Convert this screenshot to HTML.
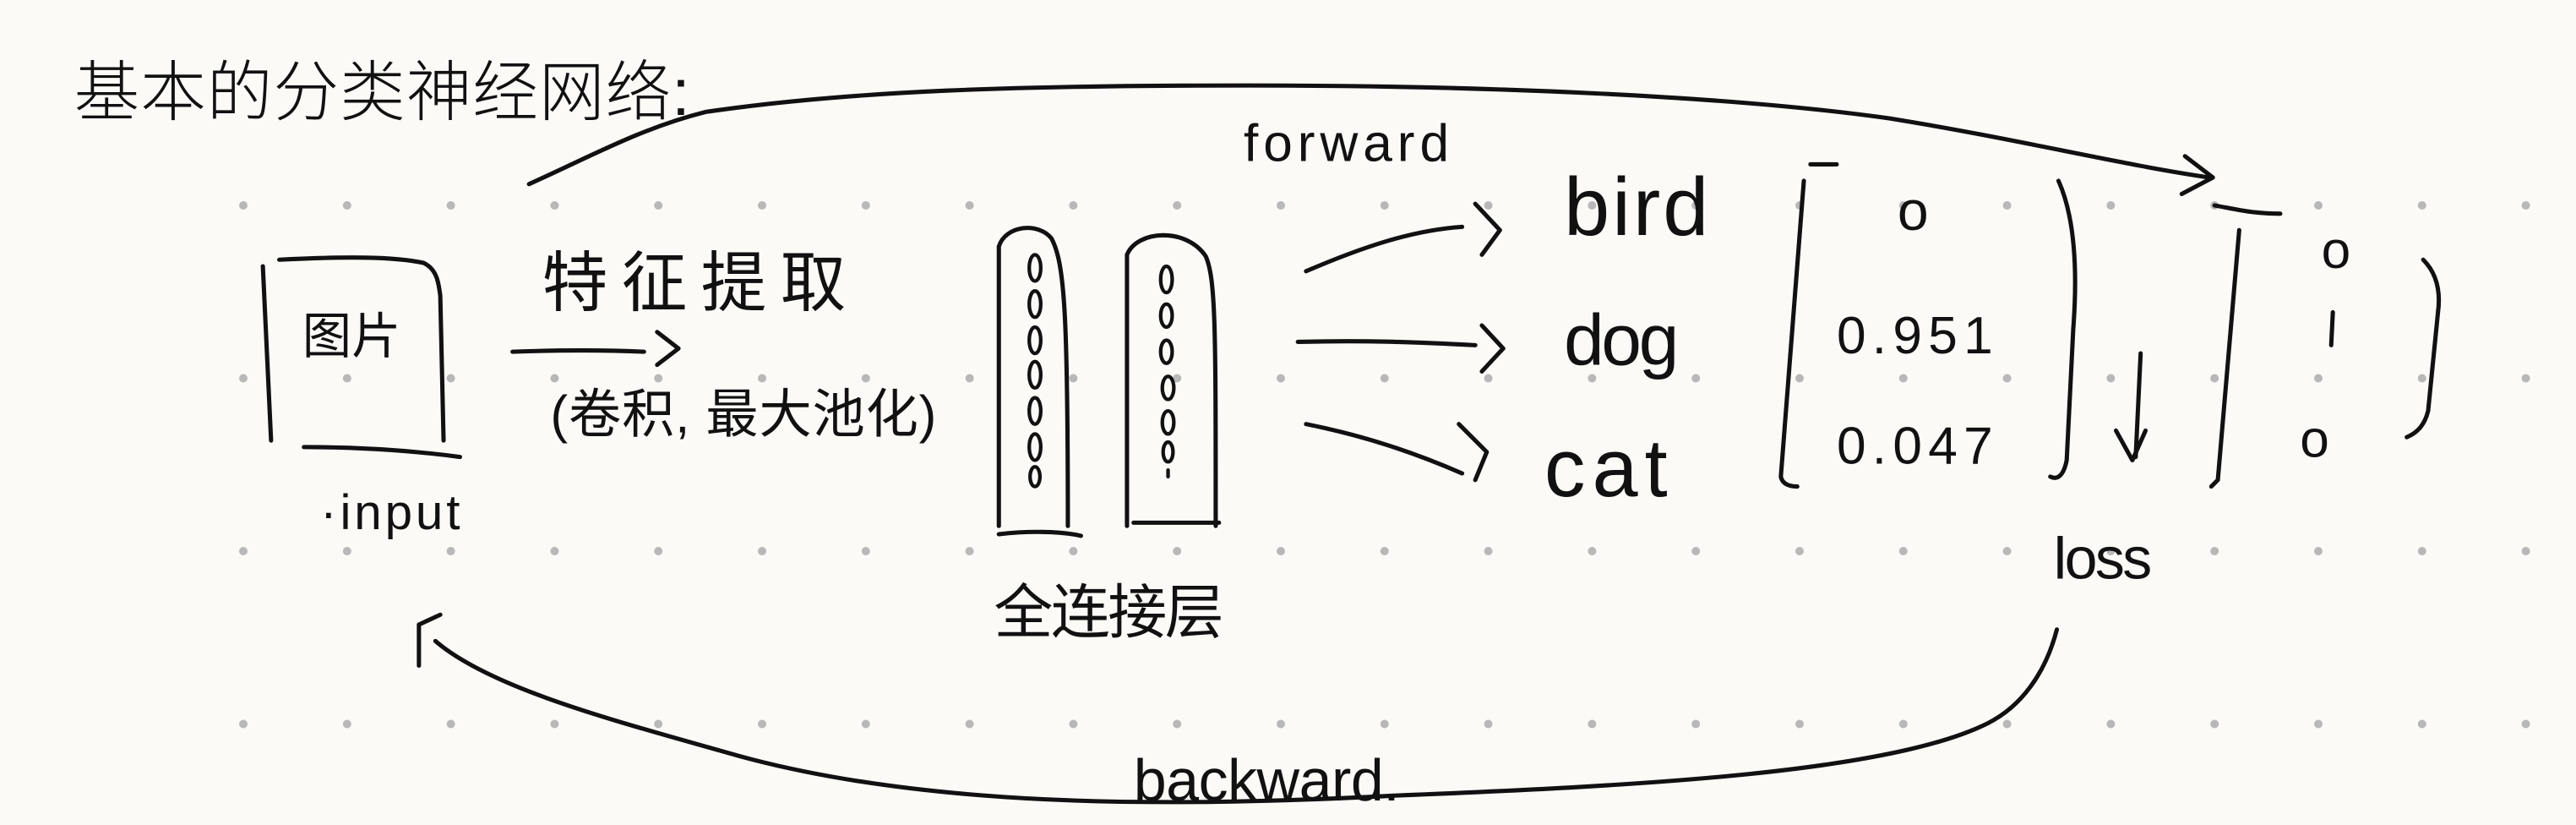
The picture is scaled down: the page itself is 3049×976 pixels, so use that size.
<!DOCTYPE html>
<html><head><meta charset="utf-8"><style>
html,body{margin:0;padding:0;background:#fcfaf7;}
svg{display:block;}
text{font-family:"Liberation Sans","Noto Sans CJK SC",sans-serif;fill:#111;}
</style></head><body>
<svg width="3049" height="976" viewBox="0 0 3049 976" xmlns="http://www.w3.org/2000/svg">
<rect width="3049" height="976" fill="#fcfaf7"/>
<g fill="#b8b8b8" id="dg"></g>
<g transform="scale(1.9445)" fill="none" stroke="#111" stroke-width="2.6" stroke-linecap="round" stroke-linejoin="round">
<text x="45" y="70" font-size="40" stroke="none" textLength="375" font-weight="300">基本的分类神经网络:</text>
<path d="M322,112 C360,95 390,78 430,68 C520,55 620,52 760,52 C900,52 1050,58 1150,72 C1230,85 1290,100 1345,108"/>
<path d="M1330,95 L1347,108 L1328,118"/>
<text x="757" y="98" font-size="32" stroke="none" textLength="125">forward</text>
<path d="M160,162 L165,268"/>
<path d="M170,158 C210,156 240,156 258,160 C266,164 267,172 268,180 L270,268"/>
<path d="M185,272 C220,272 250,274 280,278"/>
<text x="184" y="215" font-size="30" stroke="none">图片</text>
<text x="195" y="322" font-size="30" stroke="none" textLength="85">·input</text>
<path d="M312,214 C340,213 370,213 392,214"/>
<path d="M400,202 L413,212 L400,222"/>
<text x="330" y="186" font-size="40" stroke="none" textLength="185">特征提取</text>
<text x="335" y="263" font-size="32" stroke="none" textLength="235">(卷积, 最大池化)</text>
<path d="M608,320 L608,150 C612,137 632,135 640,145 C648,160 650,190 650,320"/>
<path d="M608,325 C625,323 645,323 658,326"/>
<path d="M686,320 L686,155 C692,140 722,138 734,156 C740,170 740,200 740,320"/>
<path d="M690,318 L742,318"/>
<g stroke-width="2.2">
<ellipse cx="630" cy="163" rx="3.5" ry="8"/><ellipse cx="630" cy="185" rx="3.5" ry="8"/>
<ellipse cx="630" cy="207" rx="3.5" ry="8"/><ellipse cx="630" cy="228" rx="3.5" ry="8"/>
<ellipse cx="630" cy="250" rx="3.5" ry="8"/><ellipse cx="630" cy="272" rx="3.5" ry="8"/>
<ellipse cx="630" cy="290" rx="3" ry="6"/>
<ellipse cx="710" cy="170" rx="3.5" ry="8"/><ellipse cx="710" cy="192" rx="3.5" ry="7"/>
<ellipse cx="710" cy="214" rx="3.5" ry="7"/><ellipse cx="711" cy="236" rx="3.5" ry="7"/>
<ellipse cx="711" cy="257" rx="3.5" ry="7"/><ellipse cx="711" cy="275" rx="3" ry="6"/>
<path d="M711,286 L711,290"/>
</g>
<text x="605" y="385" font-size="36" stroke="none" textLength="140">全连接层</text>
<path d="M795,165 C830,150 860,140 890,138"/>
<path d="M898,124 L913,140 L902,155"/>
<path d="M790,208 C830,207 860,208 898,210"/>
<path d="M902,198 L915,212 L902,226"/>
<path d="M795,258 C830,265 860,275 890,288"/>
<path d="M888,258 L905,275 L898,292"/>
<text x="952" y="143" font-size="50" stroke="none" textLength="88">bird</text>
<text x="952" y="222" font-size="44" stroke="none" textLength="70">dog</text>
<text x="940" y="302" font-size="50" stroke="none" textLength="75">cat</text>
<path d="M1098,110 L1084,290 C1085,295 1090,296 1094,296"/>
<path d="M1102,100 L1118,100"/>
<path d="M1253,110 C1262,130 1265,160 1262,200 L1258,280 C1256,290 1252,292 1248,290"/>
<text x="1155" y="140" font-size="34" stroke="none">o</text>
<text x="1118" y="215" font-size="32" stroke="none" textLength="95">0.951</text>
<text x="1118" y="282" font-size="32" stroke="none" textLength="95">0.047</text>
<path d="M1303,215 L1300,278"/>
<path d="M1288,262 L1298,280 L1306,262"/>
<text x="1250" y="352" font-size="36" stroke="none" textLength="60">loss</text>
<path d="M1348,125 C1360,127 1370,130 1388,130"/>
<path d="M1363,140 L1350,292 L1346,296"/>
<path d="M1475,158 C1482,165 1486,175 1484,190 L1478,250 C1476,258 1472,263 1465,266"/>
<text x="1413" y="163" font-size="32" stroke="none">o</text>
<path d="M1420,190 L1419,210"/>
<text x="1400" y="278" font-size="32" stroke="none">o</text>
<path d="M1252,383 C1245,410 1230,430 1210,440 C1150,470 1000,478 850,484 C700,492 560,490 450,460 C380,440 300,420 265,390"/>
<path d="M255,405 L255,380 L268,374"/>
<text x="690" y="487" font-size="36" stroke="none" textLength="162">backward.</text>
</g>
</svg>
<script>
var g=document.getElementById('dg');var s='';
for(var j=0;j<4;j++){for(var k=0;k<23;k++){s+='<circle cx="'+(288+122.8*k)+'" cy="'+(243+204.5*j)+'" r="5"/>';}}
g.innerHTML=s;
</script>
</body></html>
